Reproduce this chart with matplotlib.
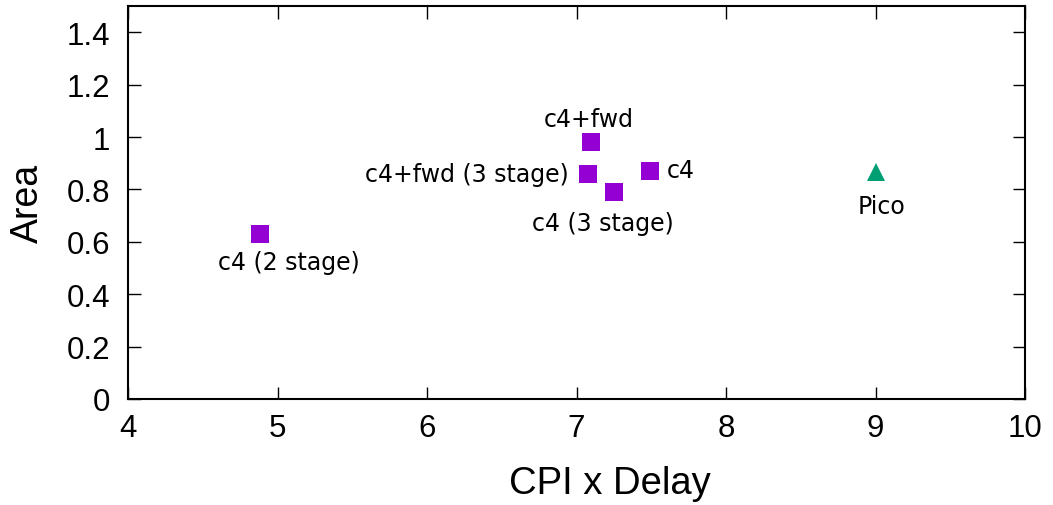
import matplotlib
matplotlib.use("Agg")
import matplotlib.pyplot as plt

# Design points: CPI x Delay vs. normalised Area
names = ["c4 (2 stage)", "c4+fwd", "c4+fwd (3 stage)", "c4 (3 stage)", "c4"]
cpi_delay = [4.88, 7.10, 7.08, 7.25, 7.49]
area = [0.63, 0.98, 0.86, 0.79, 0.87]

pico_name = "Pico"
pico_cpi_delay = 9.0
pico_area = 0.865

# label offsets (points) and alignment for each design point
offsets = [(21, -20, "center"), (-2, 17, "center"), (-14, 0, "right"),
           (-8, -22, "center"), (12, 1, "left")]

fig = plt.figure(figsize=(10.53, 5.06), dpi=100)
ax = fig.add_axes([128 / 1053, 106 / 506, 897 / 1053, 393 / 506])

ax.plot(cpi_delay, area, "s", color="#9400D3", markersize=13.5, markeredgewidth=0)
ax.plot([pico_cpi_delay], [pico_area], "^", color="#009E73", markersize=13, markeredgewidth=0)

for n, x, y, (dx, dy, ha) in zip(names, cpi_delay, area, offsets):
    ax.annotate(n, (x, y), xytext=(dx, dy), textcoords="offset points",
                ha=ha, va="center", fontsize=17, family="DejaVu Sans")
ax.annotate(pico_name, (pico_cpi_delay, pico_area), xytext=(4, -24),
            textcoords="offset points", ha="center", va="center",
            fontsize=17, family="DejaVu Sans")

ax.set_xlim(4, 10)
ax.set_ylim(0, 1.5)
ax.set_xticks(range(4, 11))
ax.set_yticks([0, 0.2, 0.4, 0.6, 0.8, 1.0, 1.2, 1.4])
ax.set_yticklabels(["0", "0.2", "0.4", "0.6", "0.8", "1", "1.2", "1.4"])

ax.tick_params(direction="in", length=9, width=1.0, top=True, right=True,
               labelsize=22.5)
ax.tick_params(axis="x", pad=10)
ax.tick_params(axis="y", pad=13)
for lab in ax.get_xticklabels() + ax.get_yticklabels():
    lab.set_family("Liberation Sans")
for s in ax.spines.values():
    s.set_linewidth(1.5)

ax.set_xlabel("CPI x Delay", fontsize=27.5, family="Liberation Sans", va="center")
ax.set_ylabel("Area", fontsize=27, family="Liberation Sans", va="center")
ax.xaxis.set_label_coords(0.537, -0.214)
ax.yaxis.set_label_coords(-0.112, 0.5)

fig.savefig("out.png", dpi=100)
